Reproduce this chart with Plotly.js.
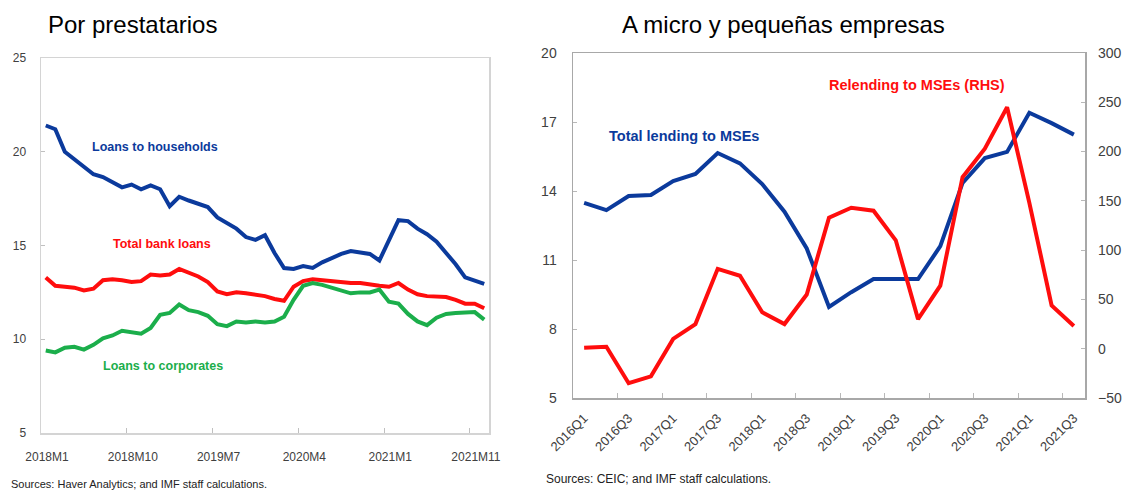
<!DOCTYPE html>
<html>
<head>
<meta charset="utf-8">
<script src="https://cdn.plot.ly/plotly-3.0.1.min.js"></script>
<style>html,body{margin:0;padding:0;background:#fff;}#chart{width:1131px;height:491px;}</style>
</head>
<body>
<div id="chart"></div>
<script>
// ---- Left panel: Por prestatarios (monthly, 2018M1 - 2021M11) ----
const months = ["2018M1","2018M2","2018M3","2018M4","2018M5","2018M6","2018M7","2018M8","2018M9","2018M10","2018M11","2018M12",
  "2019M1","2019M2","2019M3","2019M4","2019M5","2019M6","2019M7","2019M8","2019M9","2019M10","2019M11","2019M12",
  "2020M1","2020M2","2020M3","2020M4","2020M5","2020M6","2020M7","2020M8","2020M9","2020M10","2020M11","2020M12",
  "2021M1","2021M2","2021M3","2021M4","2021M5","2021M6","2021M7","2021M8","2021M9","2021M10","2021M11"];
const households = [21.4,21.2,20.0,19.6,19.2,18.8,18.65,18.4,18.1,18.25,18.0,18.2,18.0,17.1,17.6,17.4,17.25,17.05,16.5,16.2,15.9,15.45,15.3,15.55,14.6,13.8,13.75,13.9,13.8,14.1,14.35,14.55,14.7,14.6,14.55,14.2,15.3,16.35,16.3,15.9,15.6,15.2,14.6,14.0,13.3,13.1,12.95];
const totalBank = [13.3,12.85,12.8,12.75,12.6,12.7,13.15,13.2,13.15,13.05,13.1,13.45,13.4,13.45,13.75,13.55,13.35,13.05,12.55,12.4,12.5,12.45,12.4,12.3,12.15,12.05,12.8,13.1,13.2,13.15,13.05,13.05,13.0,13.0,12.9,12.85,12.8,13.0,12.65,12.4,12.3,12.3,12.25,12.1,11.9,11.9,11.65];
const corporates = [9.4,9.3,9.55,9.6,9.45,9.7,10.05,10.2,10.45,10.35,10.3,10.6,11.3,11.4,11.85,11.55,11.45,11.25,10.8,10.7,10.95,10.9,10.95,10.9,10.95,11.2,12.1,12.85,13.0,12.9,12.75,12.6,12.45,12.5,12.5,12.65,12.0,11.9,11.35,10.95,10.75,11.15,11.35,11.4,11.4,11.45,11.05];
const leftTickIdx = [0,9,18,27,36,45];
const leftTickText = ["2018M1","2018M10","2019M7","2020M4","2021M1","2021M11"];

// ---- Right panel: A micro y pequeñas empresas (quarterly) ----
const quarters = ["2016Q1","2016Q2","2016Q3","2016Q4","2017Q1","2017Q2","2017Q3","2017Q4",
  "2018Q1","2018Q2","2018Q3","2018Q4","2019Q1","2019Q2","2019Q3","2019Q4",
  "2020Q1","2020Q2","2020Q3","2020Q4","2021Q1","2021Q2","2021Q3"];
const totalMSE = [13.48,13.17,13.78,13.83,14.43,14.74,15.65,15.2,14.3,13.1,11.5,8.96,9.6,10.17,10.17,10.17,11.6,14.35,15.43,15.7,17.4,16.95,16.45];
const relendingMSE = [1,2,-35,-28,10,25,81,74,37,25,55,133,143,140,110,30,64,174,203,245,148,44,23];

const BLUE = '#0b3a9c', RED = '#ff0d0d', GREEN = '#1bae4b';
const W = 1131, H = 491;
const px = x => x / W, py = y => 1 - y / H;

const mi = months.map((_, i) => i);
const qi = quarters.map((_, i) => i);

const line = (c) => ({color: c, width: 4});

const traces = [
  {x: mi, y: households, text: months, type: 'scatter', mode: 'lines', line: line(BLUE), xaxis: 'x', yaxis: 'y', hoverinfo: 'text+y'},
  {x: mi, y: totalBank, text: months, type: 'scatter', mode: 'lines', line: line(RED), xaxis: 'x', yaxis: 'y', hoverinfo: 'text+y'},
  {x: mi, y: corporates, text: months, type: 'scatter', mode: 'lines', line: line(GREEN), xaxis: 'x', yaxis: 'y', hoverinfo: 'text+y'},
  {x: qi, y: totalMSE, text: quarters, type: 'scatter', mode: 'lines', line: line(BLUE), xaxis: 'x2', yaxis: 'y2', hoverinfo: 'text+y'},
  {x: qi, y: relendingMSE, text: quarters, type: 'scatter', mode: 'lines', line: line(RED), xaxis: 'x2', yaxis: 'y3', hoverinfo: 'text+y'}
];

const FF = 'Liberation Sans, Arial, sans-serif';
const tickFontL = {family: FF, size: 12, color: '#404040'};
const tickFontR = {family: FF, size: 14, color: '#404040'};
const lineL = '#d4d4d4', lineR = '#a8a8a8';

const layout = {
  width: W, height: H,
  margin: {l: 0, r: 0, t: 0, b: 0},
  paper_bgcolor: '#fff', plot_bgcolor: '#fff',
  showlegend: false,
  xaxis: {
    domain: [px(41), px(489)], anchor: 'y',
    range: [-0.5, months.length - 0.5],
    tickmode: 'array',
    tickvals: leftTickIdx.map(i => i - 0.5),
    ticktext: leftTickText,
    ticklabelshift: 6,
    ticklabelstandoff: 12,
    ticks: 'inside', ticklen: 5, tickcolor: '#c0c0c0',
    tickfont: tickFontL,
    showgrid: false, zeroline: false,
    showline: true, linecolor: lineL, linewidth: 1.5, mirror: true
  },
  yaxis: {
    domain: [1 - 433 / H, 1 - 58 / H], anchor: 'x',
    range: [5, 25], dtick: 5, tick0: 5,
    ticklabelstandoff: 11,
    ticks: 'inside', ticklen: 4, tickcolor: '#c0c0c0',
    tickfont: tickFontL,
    showgrid: false, zeroline: false,
    showline: true, linecolor: lineL, linewidth: 1.5, mirror: true
  },
  xaxis2: {
    domain: [px(573), px(1085)], anchor: 'y2',
    range: [-0.5, quarters.length - 0.5],
    tickmode: 'array',
    tickvals: qi.filter(i => i % 2 === 0).map(i => i - 0.5),
    ticktext: quarters.filter((_, i) => i % 2 === 0),
    ticklabelshift: 11,
    ticklabelstandoff: 6,
    tickangle: -45,
    ticks: 'inside', ticklen: 5, tickcolor: '#b8b8b8',
    tickfont: {family: FF, size: 13, color: '#404040'},
    showgrid: false, zeroline: false,
    showline: true, linecolor: lineR, linewidth: 1.5, mirror: true
  },
  yaxis2: {
    domain: [1 - 398 / H, 1 - 53 / H], anchor: 'x2',
    range: [5, 20], dtick: 3, tick0: 5,
    ticklabelstandoff: 12,
    ticks: 'inside', ticklen: 4, tickcolor: '#b8b8b8',
    tickfont: tickFontR,
    showgrid: false, zeroline: false,
    showline: true, linecolor: lineR, linewidth: 1.5, mirror: true
  },
  yaxis3: {
    overlaying: 'y2', side: 'right', anchor: 'x2',
    range: [-50, 300], dtick: 50, tick0: -50,
    ticklabelstandoff: 12,
    ticks: 'inside', ticklen: 4, tickcolor: '#b8b8b8',
    tickfont: tickFontR,
    showgrid: false, zeroline: false,
    showline: false
  },
  annotations: [
    {text: 'Por prestatarios', xref: 'paper', yref: 'paper', x: px(46), y: py(24), xanchor: 'left', yanchor: 'middle', showarrow: false,
     font: {family: FF, size: 24, color: '#000'}},
    {text: 'A micro y pequeñas empresas', xref: 'paper', yref: 'paper', x: px(620), y: py(24), xanchor: 'left', yanchor: 'middle', showarrow: false,
     font: {family: FF, size: 24, color: '#000'}},
    {text: '<b>Loans to households</b>', xref: 'paper', yref: 'paper', x: px(155), y: py(147), xanchor: 'center', yanchor: 'middle', showarrow: false,
     font: {family: FF, size: 12.5, color: BLUE}},
    {text: '<b>Total bank loans</b>', xref: 'paper', yref: 'paper', x: px(162), y: py(244), xanchor: 'center', yanchor: 'middle', showarrow: false,
     font: {family: FF, size: 12.5, color: RED}},
    {text: '<b>Loans to corporates</b>', xref: 'paper', yref: 'paper', x: px(163), y: py(366), xanchor: 'center', yanchor: 'middle', showarrow: false,
     font: {family: FF, size: 12.5, color: GREEN}},
    {text: '<b>Total lending to MSEs</b>', xref: 'paper', yref: 'paper', x: px(684), y: py(136), xanchor: 'center', yanchor: 'middle', showarrow: false,
     font: {family: FF, size: 14.5, color: BLUE}},
    {text: '<b>Relending to MSEs (RHS)</b>', xref: 'paper', yref: 'paper', x: px(917), y: py(85), xanchor: 'center', yanchor: 'middle', showarrow: false,
     font: {family: FF, size: 14.5, color: RED}},
    {text: 'Sources: Haver Analytics; and IMF staff calculations.', xref: 'paper', yref: 'paper', x: px(9), y: py(484), xanchor: 'left', yanchor: 'middle', showarrow: false,
     font: {family: FF, size: 11, color: '#222'}},
    {text: 'Sources: CEIC; and IMF staff calculations.', xref: 'paper', yref: 'paper', x: px(544), y: py(479), xanchor: 'left', yanchor: 'middle', showarrow: false,
     font: {family: FF, size: 12, color: '#222'}}
  ]
};

Plotly.newPlot('chart', traces, layout, {displayModeBar: false, staticPlot: true});
</script>
</body>
</html>
